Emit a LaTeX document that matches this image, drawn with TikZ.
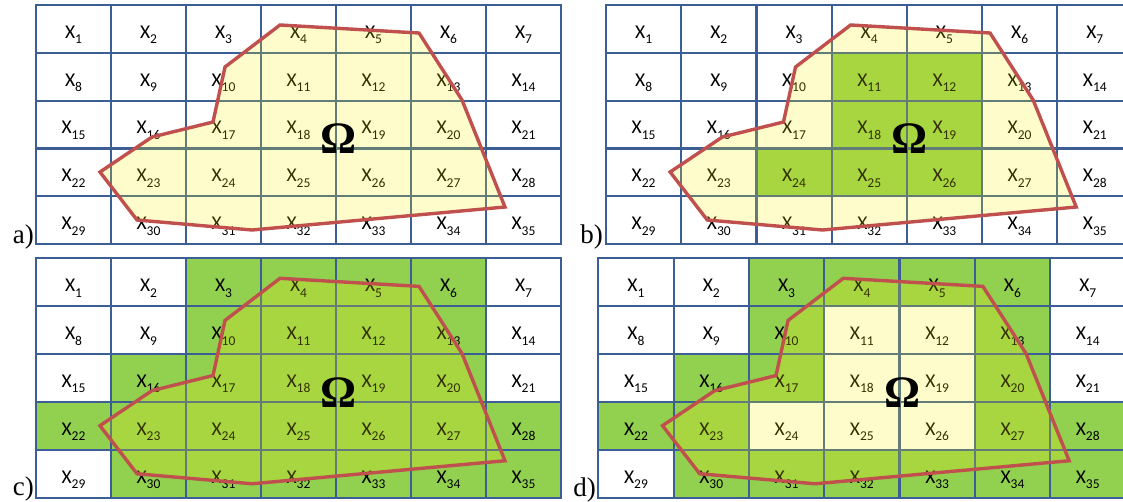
\documentclass[tikz,border=0pt]{standalone}
\usepackage{fontspec}
\setmainfont{Carlito}
\newfontfamily\timesf{Liberation Serif}
\definecolor{gridblue}{HTML}{3B5F95}
\definecolor{cellgreen}{HTML}{92D050}
\definecolor{polyred}{HTML}{C0504D}
\newcommand{\cellx}[1]{X\raisebox{-5.5pt}{\fontsize{13.5}{14}\selectfont #1}}
\tikzset{
  gridline/.style={draw=gridblue, line width=2.2pt},
  celllabel/.style={font=\fontsize{19.5}{20}\selectfont, anchor=base, inner sep=0pt, text=black},
  omegalabel/.style={font=\timesf\bfseries\fontsize{45}{45}\selectfont, inner sep=0pt, text=black},
  panellabel/.style={font=\timesf\fontsize{27}{27}\selectfont, anchor=base east, inner sep=0pt},
  regionfill/.style={fill=yellow, fill opacity=0.2},
  regionline/.style={draw=polyred, line width=3.4pt}
}
\newcommand{\drawpanel}[6]{%
\begin{scope}[shift={(#2pt,-#3pt)}, x=#4pt, y=-#5pt]
  \foreach \n in {#6} {
    \ifnum\n>0
      \pgfmathtruncatemacro\cc{mod(\n-1,7)}
      \pgfmathtruncatemacro\rr{div(\n-1,7)}
      \fill[cellgreen] (\cc,\rr) rectangle ++(1,1);
    \fi
  }
  \foreach \i in {1,...,6} \draw[gridline] (\i,0) -- (\i,5);
  \foreach \j in {1,...,4} \draw[gridline] (0,\j) -- (7,\j);
  \draw[gridline] (0,0) rectangle (7,5);
  \foreach \n in {1,...,35} {
    \pgfmathtruncatemacro\cc{mod(\n-1,7)}
    \pgfmathtruncatemacro\rr{div(\n-1,7)}
    \node[celllabel, yshift=-9.4pt] (#1x\n) at (\cc+0.5,\rr+0.5) {\cellx{\n}};
  }
  \coordinate (#1p1) at (3.253,0.418);
  \coordinate (#1p2) at (5.107,0.586);
  \coordinate (#1p3) at (5.68,1.987);
  \coordinate (#1p4) at (6.253,4.226);
  \coordinate (#1p5) at (2.88,4.707);
  \coordinate (#1p6) at (1.347,4.498);
  \coordinate (#1p7) at (0.853,3.494);
  \coordinate (#1p8) at (1.547,2.762);
  \coordinate (#1p9) at (2.36,2.448);
  \coordinate (#1p10) at (2.52,1.297);
  \fill[regionfill] (#1p1) -- (#1p2) -- (#1p3) -- (#1p4) -- (#1p5) -- (#1p6) -- (#1p7) -- (#1p8) -- (#1p9) -- (#1p10) -- cycle;
  \draw[regionline] (#1p1) -- (#1p2) -- (#1p3) -- (#1p4) -- (#1p5) -- (#1p6) -- (#1p7) -- (#1p8) -- (#1p9) -- (#1p10) -- cycle;
  \node[omegalabel] (#1omega) at (4.04,2.80) {Ω};
\end{scope}}
\begin{document}
\begin{tikzpicture}[x=1pt,y=-1pt]
\useasboundingbox (0,0) rectangle (1123,501);
\clip (0,0) rectangle (1123,501);
\fill[white] (0,0) rectangle (1123,501);
\drawpanel{a}{36}{5}{75}{47.8}{0}
\drawpanel{b}{606}{5}{75.2}{47.8}{11,12,18,19,24,25,26}
\drawpanel{c}{36}{258.3}{75}{47.9}{3,4,5,6,10,11,12,13,16,17,18,19,20,22,23,24,25,26,27,28,30,31,32,33,34,35}
\drawpanel{d}{598.3}{258.3}{75.3}{47.9}{3,4,5,6,10,13,16,17,20,22,23,27,28,30,31,32,33,34,35}
\node[panellabel] (la) at (34,243) {a)};
\node[panellabel] (lb) at (603,243) {b)};
\node[panellabel] (lc) at (34,495) {c)};
\node[panellabel] (ld) at (596,496) {d)};
\end{tikzpicture}
\end{document}
